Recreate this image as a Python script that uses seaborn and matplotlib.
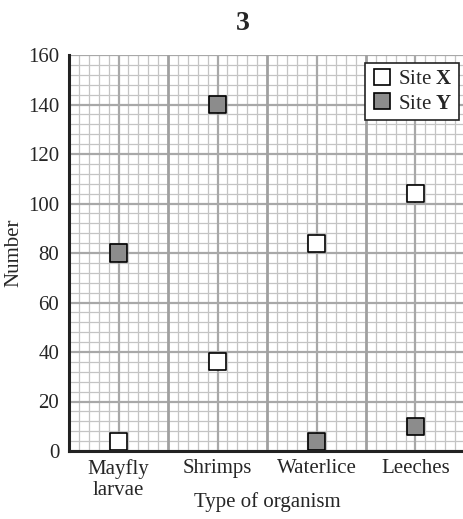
import matplotlib
matplotlib.use("Agg")
import matplotlib.pyplot as plt
import seaborn as sns
import pandas as pd
import numpy as np
from matplotlib.lines import Line2D

categories = ["Mayfly\nlarvae", "Shrimps", "Waterlice", "Leeches"]
site_x = [4, 36, 84, 104]
site_y = [80, 140, 4, 10]
y_ticks = [0, 20, 40, 60, 80, 100, 120, 140, 160]

sns.set_style("white")
plt.rcParams["font.family"] = ["Liberation Serif", "DejaVu Serif"]
plt.rcParams["mathtext.fontset"] = "custom"
plt.rcParams["mathtext.bf"] = "Liberation Serif:bold"
plt.rcParams["mathtext.rm"] = "Liberation Serif"

df = pd.DataFrame({
    "pos": list(range(len(categories))) * 2,
    "value": site_x + site_y,
    "site": ["X"] * len(categories) + ["Y"] * len(categories),
})

fig = plt.figure(figsize=(4.64, 5.19), dpi=100)
ax = fig.add_axes([69/464, 1-451/519, (465-69)/464, (451-55)/519])

n = len(categories)
ax.set_xlim(-0.5, n - 0.5)
ax.set_ylim(0, 160)

# grid
for v in np.arange(0, 161, 4):
    if v % 20 == 0:
        ax.axhline(v, color="#a8a8a8", lw=1.6, zorder=1)
    else:
        ax.axhline(v, color="#c4c4c4", lw=0.9, zorder=0.5)
for k in range(n * 10 + 1):
    xv = -0.5 + k * 0.1
    if k % 10 == 0:
        ax.axvline(xv, color="#a0a0a0", lw=2.0, zorder=1)
    elif k % 5 == 0:
        ax.axvline(xv, color="#a8a8a8", lw=1.6, zorder=1)
    else:
        ax.axvline(xv, color="#c4c4c4", lw=0.9, zorder=0.5)

sns.scatterplot(data=df, x="pos", y="value", hue="site",
                palette={"X": "white", "Y": "#8c8c8c"}, marker="s", s=150,
                edgecolor="black", linewidth=1.2, legend=False, ax=ax, zorder=5)

for s in ["top", "right"]:
    ax.spines[s].set_visible(False)
ax.spines["left"].set_color("#222222")
ax.spines["left"].set_linewidth(2.2)
ax.spines["bottom"].set_color("#222222")
ax.spines["bottom"].set_linewidth(2.2)
ax.spines["left"].set_zorder(6)
ax.spines["bottom"].set_zorder(6)

fs = 15
ax.set_yticks(y_ticks)
ax.set_yticklabels([str(t) for t in y_ticks], fontsize=fs)
ax.set_xticks([i + 0.5 for i in range(n - 1)])
ax.set_xticklabels([])
ax.set_xticks(list(range(n)), minor=True)
ax.set_xticklabels(categories, minor=True, fontsize=fs, linespacing=1.15)
ax.tick_params(axis="x", which="minor", length=0, pad=6)
ax.tick_params(axis="x", which="major", length=5, width=1.2, color="#222222", direction="out")
ax.tick_params(axis="y", length=5, width=1.2, color="#222222", direction="out", pad=2)

ax.set_xlabel("Type of organism", fontsize=fs)
ax.xaxis.set_label_coords(0.5, (451 - 502) / 396)
ax.xaxis.label.set_va("center")
ax.set_ylabel("Number", fontsize=fs, labelpad=3)

handles = [
    Line2D([], [], marker="s", ls="", markersize=11, markerfacecolor="white", markeredgecolor="black", markeredgewidth=1.2),
    Line2D([], [], marker="s", ls="", markersize=11, markerfacecolor="#8c8c8c", markeredgecolor="black", markeredgewidth=1.2),
]
leg = ax.legend(handles, ["Site $\\mathbf{X}$", "Site $\\mathbf{Y}$"], loc="upper right",
                bbox_to_anchor=((459-69)/396, 1 - (63-55)/396), fontsize=fs,
                frameon=True, fancybox=False, framealpha=1, edgecolor="#222222",
                handletextpad=0.3, borderpad=0.3, labelspacing=0.25, handlelength=1.0,
                borderaxespad=0)
leg.get_frame().set_linewidth(1.2)
leg.set_zorder(10)

fig.text(243/464, 1 - 23/519, "3", ha="center", va="center", fontsize=20, fontweight="bold")

fig.savefig("out.png", dpi=100)
